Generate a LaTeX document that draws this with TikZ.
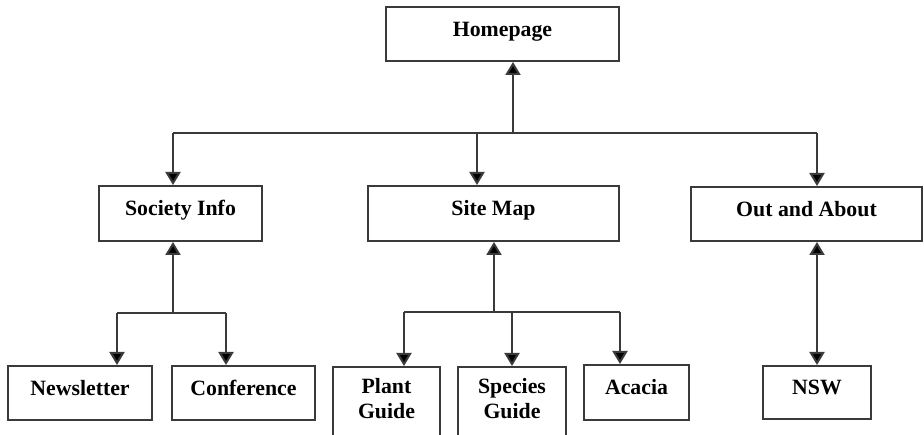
\documentclass[tikz,border=0pt]{standalone}
\usepackage{fontspec}
\setmainfont{Liberation Serif}
\usetikzlibrary{arrows.meta}
\definecolor{ln}{HTML}{3A3A3A}
\tikzset{
  box/.style={draw=ln, line width=2pt, rectangle, inner sep=0pt, font=\fontsize{21.8}{25}\selectfont\bfseries, text height=15pt, text depth=10pt},
  lbl/.style={inner sep=0pt, font=\fontsize{21.8}{25}\selectfont\bfseries, align=center},
  conn/.style={draw=ln, line width=2pt},
  arr/.style={conn, -{Triangle[width=15pt,length=13pt,fill=black]}},
  darr/.style={conn, {Triangle[width=15pt,length=13pt,fill=black]}-{Triangle[width=15pt,length=13pt,fill=black]}}
}
\begin{document}
\begin{tikzpicture}[x=1pt,y=-1pt]
\fill[white] (0,0) rectangle (924,435);
\useasboundingbox (0,0) rectangle (924,435);
\clip (0,0) rectangle (924,435);
% nodes
\node[box, minimum width=233pt, minimum height=54pt] (home) at (502.5,34) {Homepage};
\node[box, minimum width=163pt, minimum height=55pt] (soc) at (180.5,213.5) {Society Info};
\node[box, minimum width=251pt, minimum height=55pt] (site) at (493.5,213.5) {Site Map};
\node[box, minimum width=231pt, minimum height=54pt] (out) at (806.5,214) {Out and About};
\node[box, minimum width=144pt, minimum height=54pt] (news) at (80,393) {Newsletter};
\node[box, minimum width=143pt, minimum height=54pt] (conf) at (243.5,393) {Conference};
\node[box, minimum width=107pt, minimum height=100pt, anchor=north] (plant) at (386.5,366) {};
\node[lbl] (plantT) at (386.5,399) {Plant\\Guide};
\node[box, minimum width=108pt, minimum height=100pt, anchor=north] (spec) at (512,366) {};
\node[lbl] (specT) at (512,399) {Species\\Guide};
\node[box, minimum width=105pt, minimum height=55pt] (acacia) at (636.5,392.5) {Acacia};
\node[box, minimum width=108pt, minimum height=53pt] (nsw) at (817,392.5) {NSW};
% top bus
\coordinate (b0) at (513,133);
\coordinate (b1) at (173,133);
\coordinate (b2) at (477,133);
\coordinate (b3) at (817,133);
\draw[conn] (b1) -- (b3);
\draw[arr] (b0) -- (b0 |- home.south);
\draw[arr] (b1) -- (b1 |- soc.north);
\draw[arr] (b2) -- (b2 |- site.north);
\draw[arr] (b3) -- (b3 |- out.north);
% society branch
\coordinate (s0) at (173,313);
\coordinate (s1) at (117,313);
\coordinate (s2) at (226,313);
\draw[arr] (s0) -- (s0 |- soc.south);
\draw[conn] (s1) -- (s2);
\draw[arr] (s1) -- (s1 |- news.north);
\draw[arr] (s2) -- (s2 |- conf.north);
% site branch
\coordinate (m0) at (494,312);
\coordinate (m1) at (404,312);
\coordinate (m2) at (512,312);
\coordinate (m3) at (620,312);
\draw[arr] (m0) -- (m0 |- site.south);
\draw[conn] (m1) -- (m3);
\draw[arr] (m1) -- (m1 |- plant.north);
\draw[arr] (m2) -- (m2 |- spec.north);
\draw[arr] (m3) -- (m3 |- acacia.north);
% out branch
\draw[darr] (out.south -| nsw.north) -- (nsw.north);
\end{tikzpicture}
\end{document}
